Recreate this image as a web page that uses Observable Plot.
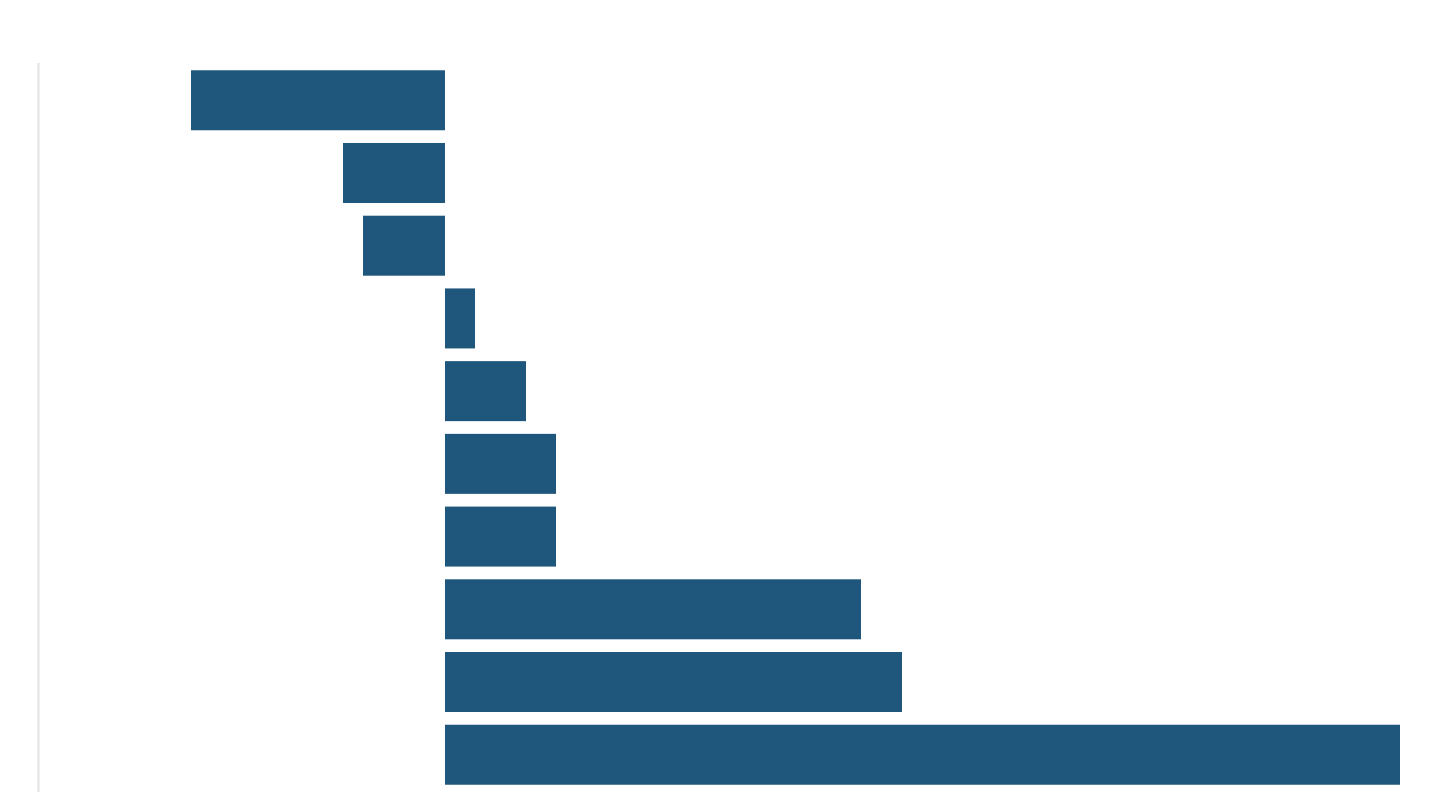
<!DOCTYPE html>
<html>
<head>
<meta charset="utf-8">
<script src="https://cdn.jsdelivr.net/npm/d3@7"></script>
<script src="https://cdn.jsdelivr.net/npm/@observablehq/plot@0.6"></script>
<style>
  html, body { margin: 0; padding: 0; background: #fff; }
  #chart svg { display: block; }
</style>
</head>
<body>
<div id="chart"></div>
<script>
const categories = ["A", "B", "C", "D", "E", "F", "G", "H", "I", "J"];
const values = [-2.54, -1.02, -0.82, 0.30, 0.81, 1.11, 1.11, 4.16, 4.57, 9.55];
const xDomain = [-4.07, 9.55];

const data = categories.map((c, i) => ({category: c, value: values[i]}));

const chart = Plot.plot({
  width: 1440,
  height: 810,
  marginTop: 63,
  marginBottom: 18,
  marginLeft: 38,
  marginRight: 40,
  x: {domain: xDomain, axis: null},
  y: {domain: categories, paddingInner: 0.175, paddingOuter: 0.1, round: false, axis: null},
  marks: [
    Plot.ruleX([xDomain[0]], {stroke: "#e3e3e3", strokeWidth: 2}),
    Plot.barX(data, {x: "value", y: "category", fill: "#1f567b"})
  ]
});
document.getElementById("chart").append(chart);
</script>
</body>
</html>
